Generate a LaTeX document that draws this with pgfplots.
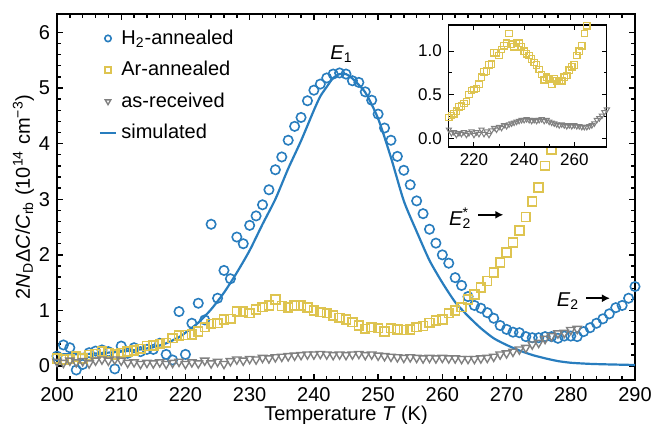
\documentclass[border=0pt]{standalone}
\usepackage{fontspec}
\setmainfont{Liberation Sans}
\usepackage{pgfplots}
\pgfplotsset{compat=1.18}
\usepackage{pgfplotstable}
\usetikzlibrary{arrows.meta}

\definecolor{hblue}{RGB}{40,125,190}
\definecolor{aryel}{RGB}{222,196,80}
\definecolor{asgray}{RGB}{128,128,128}

% H2-annealed
\pgfplotstableread{
T v
200 0.18
201 0.38
202 0.33
203 -0.07
204 0.03
205 0.24
206 0.27
207 0.29
208 0.26
209 -0.05
210 0.36
211 0.23
212 0.33
213 0.26
214 0.30
215 0.30
216 0.41
217 0.21
218 0.11
219 0.98
220 0.21
221 0.77
222 1.13
223 0.83
224 2.55
225 1.22
226 1.72
227 1.57
228 2.32
229 2.20
230 2.53
231 2.70
232 2.90
233 3.17
234 3.53
235 3.76
236 4.06
237 4.31
238 4.47
239 4.77
240 4.96
241 5.07
242 5.18
243 5.25
244 5.27
245 5.25
246 5.13
247 5.10
248 4.93
249 4.78
250 4.53
251 4.28
252 4.06
253 3.77
254 3.52
255 3.26
256 2.97
257 2.74
258 2.46
259 2.21
260 2.00
261 1.85
262 1.59
263 1.45
264 1.25
265 1.09
266 1.04
267 0.96
268 0.86
269 0.73
270 0.66
271 0.61
272 0.60
273 0.53
274 0.51
275 0.51
276 0.53
277 0.53
278 0.50
279 0.54
280 0.54
281 0.53
282 0.62
283 0.69
284 0.77
285 0.85
286 0.94
287 1.05
288 1.09
289 1.22
290 1.43
}\hdata

% Ar-annealed
\pgfplotstableread{
T v
200 0.14
201 0.12
202 0.13
203 0.17
204 0.14
205 0.20
206 0.22
207 0.26
208 0.24
209 0.21
210 0.24
211 0.26
212 0.28
213 0.31
214 0.36
215 0.37
216 0.40
217 0.42
218 0.50
219 0.55
220 0.56
221 0.57
222 0.62
223 0.70
224 0.76
225 0.77
226 0.84
227 0.85
228 0.98
229 0.98
230 0.95
231 1.02
232 1.06
233 1.09
234 1.20
235 1.08
236 1.05
237 1.09
238 1.09
239 1.05
240 1.00
241 0.97
242 0.95
243 0.91
244 0.87
245 0.84
246 0.79
247 0.73
248 0.67
249 0.70
250 0.68
251 0.62
252 0.68
253 0.66
254 0.65
255 0.66
256 0.70
257 0.72
258 0.78
259 0.82
260 0.84
261 0.95
262 1.00
263 1.06
264 1.20
265 1.29
266 1.41
267 1.53
268 1.68
269 1.86
270 2.04
271 2.22
272 2.44
273 2.68
274 2.96
275 3.21
276 3.60
277 3.89
278 4.25
}\ardata

% as-received
\pgfplotstableread{
T v
200 0.08
201 0.06
202 0.10
203 0.07
204 0.09
205 0.05
206 0.10
207 0.12
208 0.10
209 0.12
210 0.10
211 0.06
212 0.07
213 0.04
214 0.06
215 0.05
216 0.07
217 0.04
218 0.06
219 0.08
220 0.04
221 0.07
222 0.05
223 0.10
224 0.05
225 0.08
226 0.04
227 0.09
228 0.12
229 0.10
230 0.13
231 0.12
232 0.15
233 0.14
234 0.16
235 0.17
236 0.18
237 0.19
238 0.20
239 0.21
240 0.21
241 0.22
242 0.21
243 0.20
244 0.21
245 0.20
246 0.21
247 0.22
248 0.20
249 0.21
250 0.19
251 0.18
252 0.17
253 0.16
254 0.15
255 0.16
256 0.15
257 0.14
258 0.15
259 0.14
260 0.15
261 0.14
262 0.14
263 0.13
264 0.13
265 0.13
266 0.14
267 0.15
268 0.17
269 0.21
270 0.23
271 0.26
272 0.30
273 0.33
274 0.39
275 0.42
276 0.49
277 0.54
278 0.59
279 0.60
280 0.65
281 0.67
}\asdata

% simulated
\pgfplotstableread{
T v
200 0.21
205 0.22
210 0.26
213 0.30
215 0.34
217 0.41
219 0.52
220 0.60
222 0.78
224 1.02
226 1.32
228 1.68
230 2.08
232 2.55
234 3.00
236 3.55
238 4.05
240 4.60
241 4.85
242 5.02
243 5.18
244 5.25
245 5.25
246 5.17
248 4.92
250 4.45
252 3.75
254 2.97
256 2.42
258 1.90
260 1.50
262 1.15
264 0.90
266 0.68
268 0.50
270 0.38
272 0.28
274 0.20
276 0.14
278 0.09
280 0.06
283 0.04
286 0.03
290 0.02
}\simdata

\begin{document}
\begin{tikzpicture}
\begin{axis}[name=main,
  scale only axis, width=289pt, height=183pt,
  xmin=200, xmax=290, ymin=-0.25, ymax=6.33,
  xtick={200,210,...,290}, ytick={0,...,6},
  minor x tick num=4, minor y tick num=4,
  tick align=inside,
  major tick length=3.2pt, minor tick length=1.8pt,
  axis line style={line width=1pt},
  every tick/.style={black, line width=0.7pt},
  tick label style={font=\fontsize{10}{12}\selectfont},
  label style={font=\fontsize{10}{12}\selectfont},
  /pgf/number format/assume math mode=true,
  xlabel={Temperature \textit{T} (K)},
  ylabel={2\textit{N}\textsubscript{D}Δ\textit{C}/\textit{C}\textsubscript{rb} (10\textsuperscript{14} cm\textsuperscript{−3})},
  xlabel style={yshift=4.5pt},
  ylabel style={yshift=-4.5pt},
  legend cell align=left,
  legend style={draw=none, fill=none, at={(0.061,0.98)}, anchor=north west,
    font=\fontsize{10}{12}\selectfont, row sep=3pt},
  every legend image post/.style={mark size=1.6pt},
]
\addplot[only marks, mark=o, mark size=2.35pt, hblue, line width=0.8pt] table[x=T,y=v] {\hdata};
\addlegendentry{H\textsubscript{2}-annealed}
\addplot[only marks, mark=square, mark size=2.2pt, aryel, line width=0.8pt] table[x=T,y=v] {\ardata};
\addlegendentry{Ar-annealed}
\addplot[only marks, mark=triangle, mark options={rotate=180}, mark size=2.4pt, asgray, line width=0.7pt] table[x=T,y=v] {\asdata};
\addlegendentry{as-received}
\addplot[hblue, line width=1.1pt, smooth, tension=0.4, mark=none,
  legend image code/.code={\draw[hblue, line width=1.1pt] (0.155cm,0cm) -- (0.445cm,0cm);}] table[x=T,y=v] {\simdata};
\addlegendentry{simulated}
\node[font=\fontsize{10}{12}\selectfont] at (axis cs:244.3,5.6) {\textit{E}\textsubscript{1}};
\node[font=\fontsize{10}{12}\selectfont, anchor=east, inner sep=0pt] at (axis cs:264.6,2.66) {\textit{E}\makebox[0pt][l]{\textsuperscript{*}}\textsubscript{2}};
\draw[-{Latex[length=4pt,width=4pt]}, line width=0.9pt] (axis cs:265.6,2.72) -- (axis cs:269.5,2.72);
\node[font=\fontsize{10}{12}\selectfont, anchor=east] at (axis cs:282.4,1.17) {\textit{E}\textsubscript{2}};
\draw[-{Latex[length=4pt,width=4pt]}, line width=0.9pt] (axis cs:282.4,1.22) -- (axis cs:286.1,1.22);
\coordinate (insetpos) at (rel axis cs:0.678,0.970);
\end{axis}
\begin{axis}[at={(insetpos)}, anchor=north west,
  scale only axis, width=79pt, height=61pt,
  xmin=210, xmax=273, ymin=-0.1, ymax=1.3,
  xtick={220,240,260}, ytick={0,0.5,1},
  minor x tick num=1, minor y tick num=1,
  tick align=inside,
  major tick length=2.4pt, minor tick length=1.4pt,
  axis line style={line width=0.6pt},
  every tick/.style={black, line width=0.5pt},
  axis background/.style={fill=white},
  tick label style={font=\fontsize{8.5}{10}\selectfont},
  /pgf/number format/assume math mode=true,
  yticklabel style={/pgf/number format/.cd, fixed, fixed zerofill, precision=1},
]
\addplot[only marks, mark=square, mark size=1.6pt, aryel, line width=0.6pt] table[x=T,y=v] {\ardata};
\addplot[only marks, mark=triangle, mark options={rotate=180}, mark size=1.5pt, asgray, line width=0.5pt] table[x=T,y=v] {\asdata};
\end{axis}
\pgfresetboundingbox
\path[use as bounding box] ([xshift=-28.5pt,yshift=-21.5pt]main.south west) rectangle ([xshift=8.5pt,yshift=7pt]main.north east);
\end{tikzpicture}
\end{document}
